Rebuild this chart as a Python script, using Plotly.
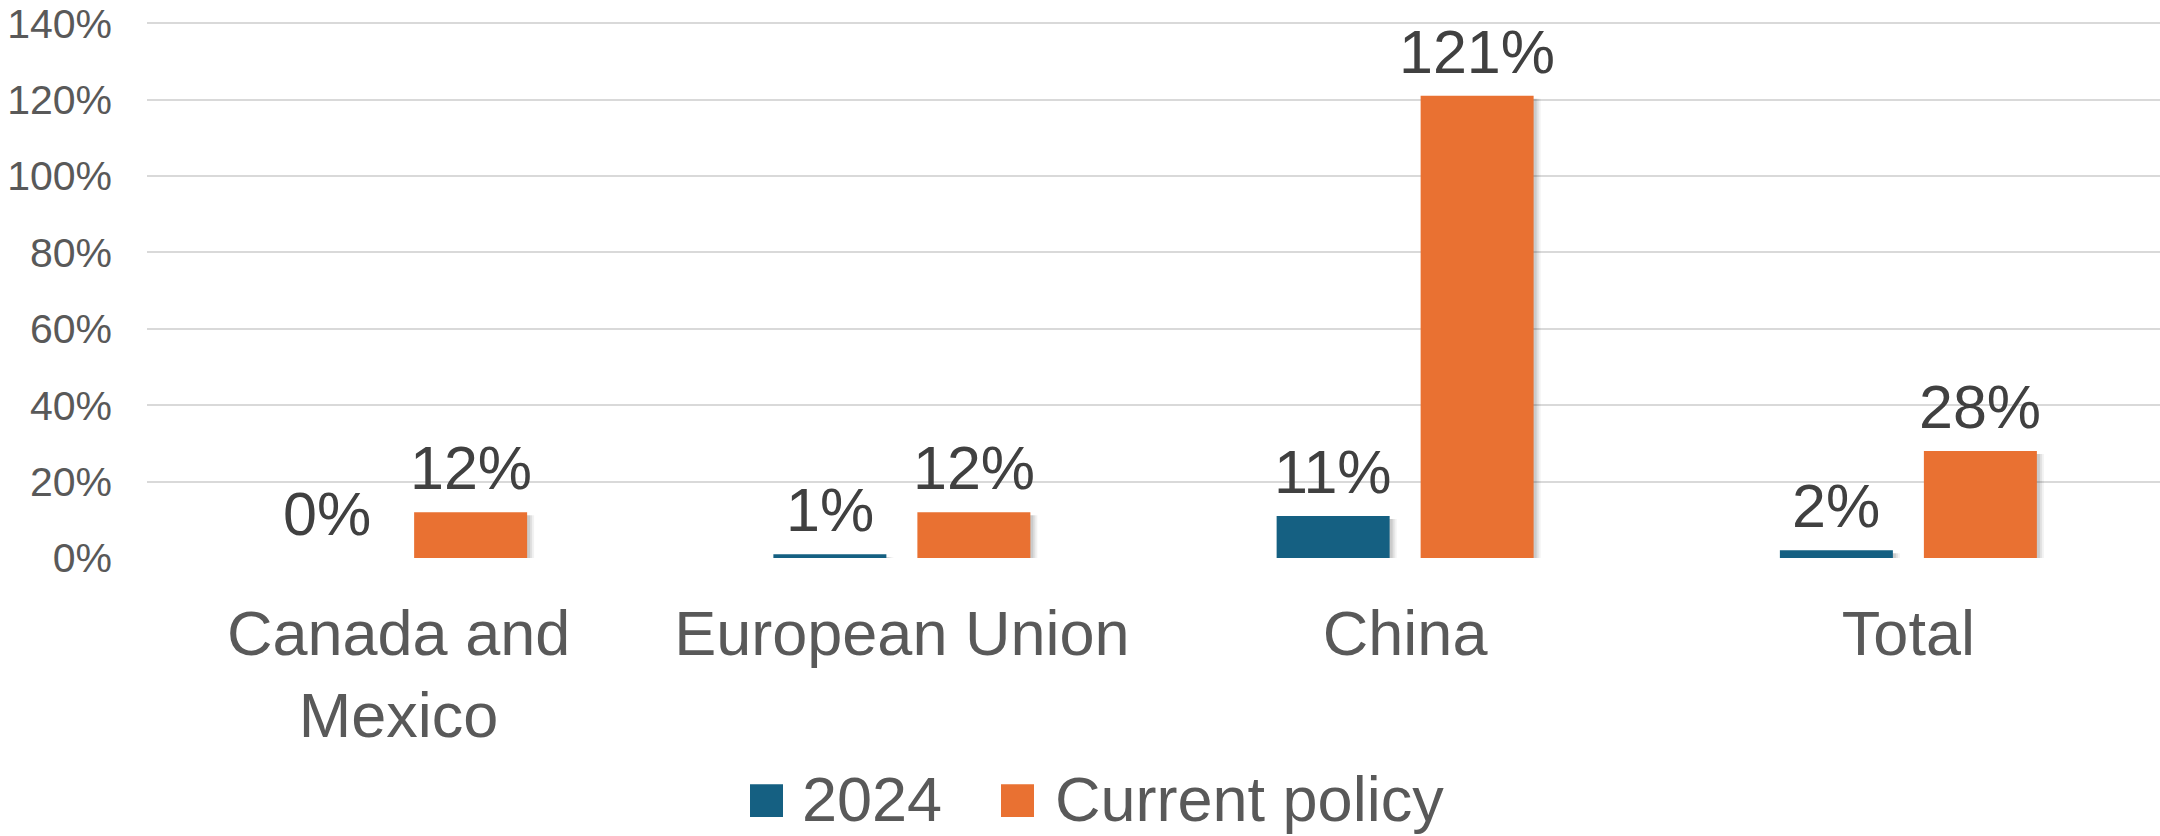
import plotly.graph_objects as go

# ---- data ----
categories = ["Canada and<br>Mexico", "European Union", "China", "Total"]
series_names = ["2024", "Current policy"]
values_2024 = [0.0, 0.01, 0.11, 0.02]
values_current = [0.12, 0.12, 1.21, 0.28]
y_tick_values = [0, 0.2, 0.4, 0.6, 0.8, 1.0, 1.2, 1.4]
y_tick_labels = ["0%", "20%", "40%", "60%", "80%", "100%", "120%", "140%"]

# ---- style ----
colors = ["#156082", "#E97132"]
FONT = "Liberation Sans, Arial, sans-serif"
W, H = 2160, 836
L, R, T, B = 147, 0, 18, 278
Y_MAX = 1.403
PW, PH = W - L - R, H - T - B
CAT_PX = PW / len(categories)          # pixels per category
SLOT_PX, BAR_PX = 144, 113             # slot and bar widths in pixels
PX_Y = PH / Y_MAX                      # pixels per y unit


def xp(px):
    return (px - L) / PW


def yp(py):
    return (H - B - py) / PH


all_values = [values_2024, values_current]
n = len(series_names)
bar_w = BAR_PX / CAT_PX

fig = go.Figure()
# soft shadows (drawn first, behind the bars)
for si, vals in enumerate(all_values):
    centre = (si - (n - 1) / 2) * SLOT_PX / CAT_PX
    for dx, alpha in [(7, 0.05), (5, 0.07), (3, 0.09)]:
        fig.add_bar(x=categories, y=vals, base=-3 / PX_Y,
                    width=bar_w, offset=centre - bar_w / 2 + dx / CAT_PX,
                    marker=dict(color=f"rgba(0,0,0,{alpha})", line=dict(width=0)),
                    showlegend=False, hoverinfo="skip")
# main bars
for si, (name, vals, col) in enumerate(zip(series_names, all_values, colors)):
    centre = (si - (n - 1) / 2) * SLOT_PX / CAT_PX
    fig.add_bar(x=categories, y=vals, name=name,
                width=bar_w, offset=centre - bar_w / 2,
                marker=dict(color=col, line=dict(width=0)),
                showlegend=False, hoverinfo="skip")
    # data labels above each bar
    for cat, v in zip(categories, vals):
        fig.add_annotation(x=cat, y=v, xref="x", yref="y", text=f"{v:.0%}",
                           showarrow=False, xanchor="center", yanchor="bottom",
                           xshift=(si - (n - 1) / 2) * SLOT_PX, yshift=8,
                           font=dict(size=61, color="#404040", family=FONT))

fig.update_layout(
    width=W, height=H,
    margin=dict(l=L, r=R, t=T, b=B, pad=0),
    paper_bgcolor="white", plot_bgcolor="white",
    barmode="overlay",
    font=dict(family=FONT, color="#595959"),
    showlegend=False,
)
fig.update_xaxes(showgrid=False, showline=False, ticks="", zeroline=False,
                 tickfont=dict(size=63, color="#595959", family=FONT),
                 ticklabelstandoff=33)
fig.update_yaxes(range=[0, Y_MAX], tickvals=y_tick_values, ticktext=y_tick_labels,
                 showgrid=True, gridcolor="#D9D9D9", gridwidth=1.5,
                 zeroline=False, showline=False, ticks="",
                 ticklabeloverflow="allow",
                 tickfont=dict(size=41, color="#595959", family=FONT),
                 ticklabelstandoff=34)

# ---- legend (custom, to get large square swatches) ----
legend_items = [(series_names[0], colors[0], 750, 800),
                (series_names[1], colors[1], 1001, 1053)]
for name, col, sx, tx in legend_items:
    fig.add_shape(type="rect", xref="paper", yref="paper",
                  x0=xp(sx), x1=xp(sx + 33), y0=yp(786), y1=yp(819),
                  fillcolor=col, line=dict(width=0))
    fig.add_annotation(text=name, xref="paper", yref="paper",
                       x=xp(tx), y=yp(801), xanchor="left", yanchor="middle",
                       showarrow=False,
                       font=dict(size=63, color="#595959", family=FONT))

fig.write_html("out.html", config={"displayModeBar": False},
               post_script="document.body.style.margin='0';")
